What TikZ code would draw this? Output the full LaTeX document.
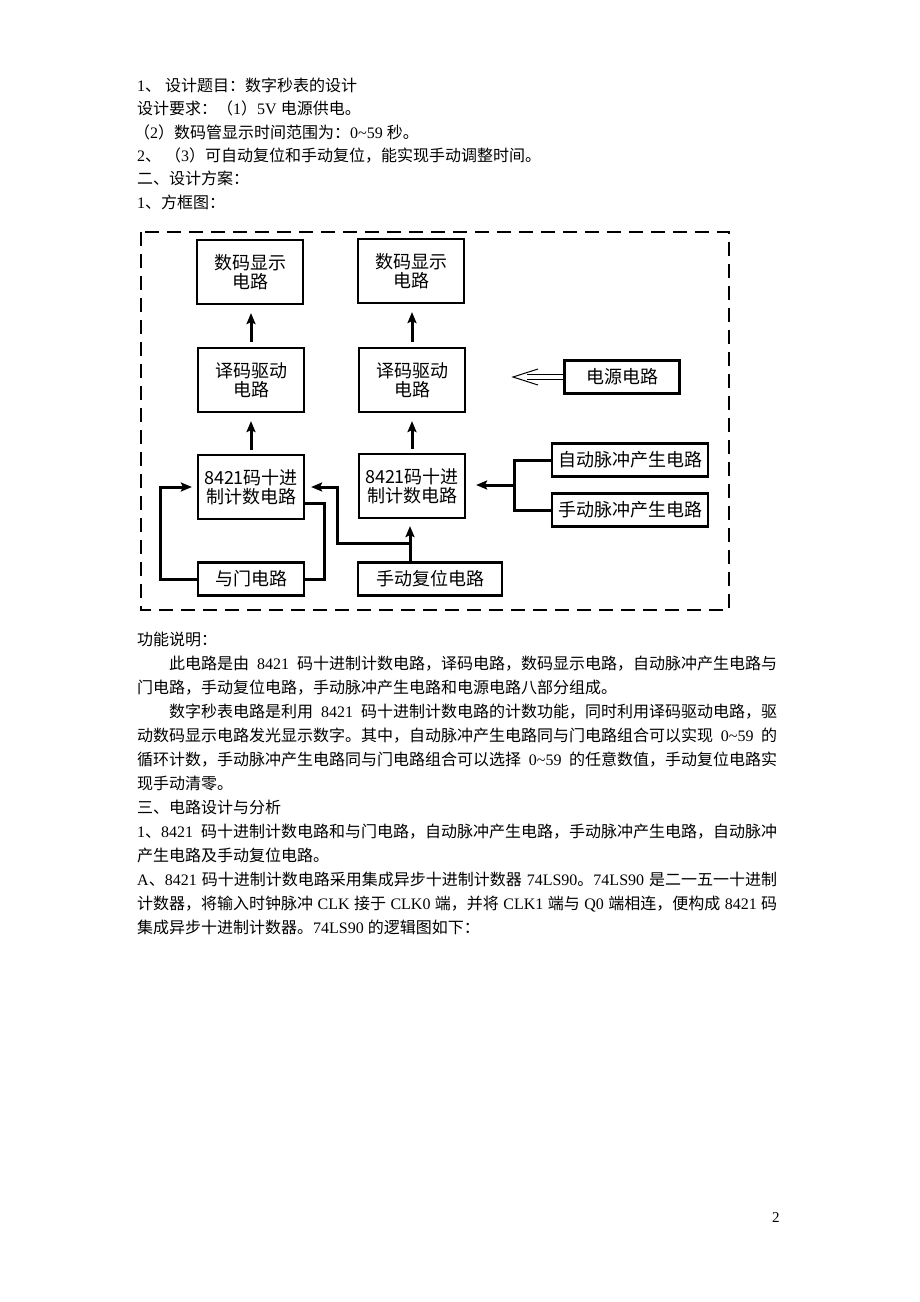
\documentclass[tikz,border=0pt]{standalone}
\usepackage{fontspec}
\setmainfont{Noto Sans CJK SC}
\newfontfamily\tm{Liberation Serif}
\usetikzlibrary{arrows.meta,calc}
\XeTeXlinebreaklocale "zh"
\XeTeXlinebreakskip=0pt plus 1pt minus 0.3pt

\newcommand{\fullline}[1]{\makebox[640pt][s]{#1}}
\newcommand{\indline}[1]{\makebox[608pt][s]{#1}}
\newcommand{\gap}{\hskip 4pt plus 4pt}
\newcommand{\rng}{{\tm 0\textasciitilde59}}

\tikzset{
  txt/.style={anchor=base west, inner sep=0pt, font=\fontsize{16}{19}\selectfont},
  blk/.style={draw, line width=2.2pt, align=center, inner sep=0pt,
    font=\fontsize{18}{19}\selectfont, minimum width=106pt, minimum height=64pt},
  sblk/.style={blk, minimum height=33pt},
  arr/.style={line width=3pt, -{Stealth[length=11pt,width=9pt,inset=2pt]}},
  wire/.style={line width=3pt},
}

\begin{document}
\begin{tikzpicture}[x=1pt,y=-1pt]
  \useasboundingbox (0,0) rectangle (920,1302);
  \fill[white] (0,0) rectangle (920,1302);

  % heading lines
  \node[txt] (h1) at (137,91) {{\tm 1}、\gap 设计题目：数字秒表的设计};
  \node[txt] (h2) at (137,114) {设计要求：（{\tm 1}）{\tm 5V}\gap 电源供电。};
  \node[txt] (h3) at (134,138) {（{\tm 2}）数码管显示时间范围为：\rng\gap 秒。};
  \node[txt] (h4) at (137,161) {{\tm 2}、\gap （{\tm 3}）可自动复位和手动复位，能实现手动调整时间。};
  \node[txt] (h5) at (137,184) {二、设计方案：};
  \node[txt] (h6) at (137,208) {{\tm 1}、方框图：};

  % block diagram
  \draw[line width=1.5pt, dash pattern=on 14pt off 8pt] (141,232) rectangle (729,610);

  \node[blk] (disp1) at (250,272) {数码显示\\电路};
  \node[blk] (disp2) at (411,271) {数码显示\\电路};
  \node[blk] (drv1) at (251,380) {译码驱动\\电路};
  \node[blk] (drv2) at (412,380) {译码驱动\\电路};
  \node[blk] (cnt1) at (251,487) {8421码十进\\制计数电路};
  \node[blk] (cnt2) at (412,486) {8421码十进\\制计数电路};
  \node[sblk] (andg) at (251,579) {与门电路};
  \node[sblk, minimum width=144pt] (rst) at (430,579) {手动复位电路};
  \node[sblk, minimum width=115pt] (pwr) at (622,377) {电源电路};
  \node[sblk, minimum width=156pt] (auto) at (630,460) {自动脉冲产生电路};
  \node[sblk, minimum width=156pt] (man) at (630,510) {手动脉冲产生电路};

  \coordinate (jn) at (410,543);
  \coordinate (bus) at (514,485);
  \coordinate (ptip) at (513,377);

  \draw[arr, shorten <=5pt, shorten >=8pt] (drv1.north) -- (drv1.north |- disp1.south);
  \draw[arr, shorten <=5pt, shorten >=8pt] (drv2.north) -- (drv2.north |- disp2.south);
  \draw[arr, shorten <=4pt, shorten >=8pt] (cnt1.north) -- (cnt1.north |- drv1.south);
  \draw[arr, shorten <=4pt, shorten >=8pt] (cnt2.north) -- (cnt2.north |- drv2.south);

  \draw[arr, shorten >=7pt] (rst.north -| jn) -- (cnt2.south -| jn);
  \draw[arr, shorten >=6pt] (jn) -- ++(-73,0) |- (cnt1.east);
  \draw[wire] ($(cnt1.east)+(0,16)$) -- ++(19,0) |- (andg.east);
  \draw[arr, shorten >=5pt] (andg.west) -- ++(-36,0) |- (cnt1.west);

  \draw[wire] (auto.west) -| (bus) |- (man.west);
  \draw[arr, shorten >=10pt] (bus) -- (bus -| cnt2.east);

  \draw[line width=1pt, double distance=4pt, shorten >=14pt] (pwr.west) -- (ptip);
  \draw[line width=1pt] ($(ptip)+(25,-8)$) -- (ptip) -- ($(ptip)+(25,8)$);

  % description
  \node[txt] (p1) at (137,645) {功能说明：};
  \node[txt] (p2) at (169,669) {\indline{此电路是由\gap{\tm 8421}\gap 码十进制计数电路，译码电路，数码显示电路，自动脉冲产生电路与}};
  \node[txt] (p3) at (137,693) {门电路，手动复位电路，手动脉冲产生电路和电源电路八部分组成。};
  \node[txt] (p4) at (169,717) {\indline{数字秒表电路是利用\gap{\tm 8421}\gap 码十进制计数电路的计数功能，同时利用译码驱动电路，驱}};
  \node[txt] (p5) at (137,741) {\fullline{动数码显示电路发光显示数字。其中，自动脉冲产生电路同与门电路组合可以实现\gap\rng\gap 的}};
  \node[txt] (p6) at (137,765) {\fullline{循环计数，手动脉冲产生电路同与门电路组合可以选择\gap\rng\gap 的任意数值，手动复位电路实}};
  \node[txt] (p7) at (137,789) {现手动清零。};
  \node[txt] (p8) at (137,813) {三、电路设计与分析};
  \node[txt] (p9) at (137,837) {\fullline{{\tm 1}、{\tm 8421}\gap 码十进制计数电路和与门电路，自动脉冲产生电路，手动脉冲产生电路，自动脉冲}};
  \node[txt] (p10) at (137,861) {产生电路及手动复位电路。};
  \node[txt] (p11) at (137,885) {\fullline{{\tm A}、{\tm 8421}\gap 码十进制计数电路采用集成异步十进制计数器\gap{\tm 74LS90}。{\tm 74LS90}\gap 是二一五一十进制}};
  \node[txt] (p12) at (137,909) {\fullline{计数器，将输入时钟脉冲\gap{\tm CLK}\gap 接于\gap{\tm CLK0}\gap 端，并将\gap{\tm CLK1}\gap 端与\gap{\tm Q0}\gap 端相连，便构成\gap{\tm 8421}\gap 码}};
  \node[txt] (p13) at (137,933) {集成异步十进制计数器。{\tm 74LS90}\gap 的逻辑图如下：};

  \node[anchor=base west, inner sep=0pt, font=\tm\fontsize{15}{18}\selectfont] (pg) at (772,1222) {2};
\end{tikzpicture}
\end{document}
